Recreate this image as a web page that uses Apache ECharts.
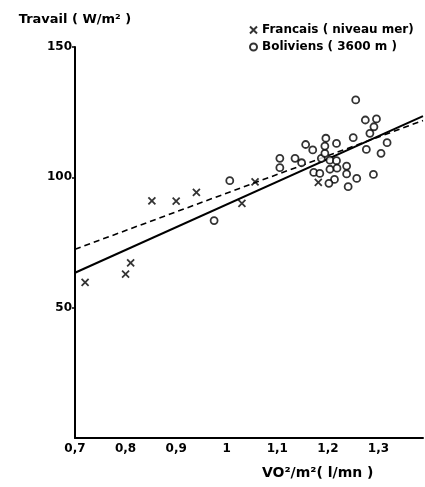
<!DOCTYPE html>
<html>
<head>
<meta charset="utf-8">
<script src="https://cdn.jsdelivr.net/npm/echarts@6/dist/echarts.min.js"></script>
<style>
html,body{margin:0;padding:0;background:#fff;}
#chart{width:425px;height:487px;}
</style>
</head>
<body>
<div id="chart"></div>
<script>
// Data
const xTicks = [0.7, 0.8, 0.9, 1.0, 1.1, 1.2, 1.3];
const yTicks = [50, 100, 150];
const francais = [
  [0.72, 59.7], [0.80, 62.9], [0.81, 67.2], [0.852, 91.0], [0.90, 90.9],
  [0.94, 94.2], [1.03, 90.0], [1.056, 98.3], [1.181, 98.1]
];
const boliviens = [
  [0.975, 83.4], [1.006, 98.7], [1.105, 107.3], [1.105, 103.7], [1.135, 107.3],
  [1.148, 105.6], [1.156, 112.6], [1.170, 110.5], [1.172, 101.9], [1.184, 101.5],
  [1.187, 107.3], [1.194, 109.2], [1.196, 115.0], [1.194, 112.0], [1.204, 106.6],
  [1.217, 106.4], [1.204, 103.1], [1.218, 103.5], [1.213, 99.2], [1.202, 97.7],
  [1.217, 113.0], [1.237, 104.3], [1.237, 101.3], [1.240, 96.4], [1.257, 99.6],
  [1.250, 115.2], [1.255, 129.7], [1.274, 122.0], [1.296, 122.4], [1.291, 119.4],
  [1.283, 116.9], [1.276, 110.7], [1.317, 113.3], [1.305, 109.2], [1.290, 101.1]
];
const solidLine = [[0.7, 63.4], [1.388, 123.5]];
const dashedLine = [[0.7, 72.4], [1.388, 121.8]];

const names = { fr: 'Francais ( niveau mer)', bo: 'Boliviens ( 3600 m )' };
const FONT = 'DejaVu Sans';

const chart = echarts.init(document.getElementById('chart'), null, { renderer: 'canvas' });
chart.setOption({
  animation: false,
  backgroundColor: '#fff',
  grid: { left: 75, right: 2, top: 47, bottom: 49, containLabel: false },
  legend: {
    orient: 'vertical',
    left: 244,
    top: 19,
    itemWidth: 7,
    itemHeight: 7,
    itemGap: 5,
    data: [names.fr, names.bo],
    textStyle: { fontFamily: FONT, fontSize: 12, fontWeight: 'bold', color: '#000' }
  },
  xAxis: {
    type: 'value',
    min: 0.7,
    max: 1.388,
    interval: 0.1,
    splitLine: { show: false },
    axisLine: { lineStyle: { color: '#000', width: 2 } },
    axisTick: { show: false },
    axisLabel: {
      showMaxLabel: false,
      margin: 5,
      fontFamily: FONT, fontSize: 12, fontWeight: 'bold', color: '#000',
      formatter: function (v) {
        const r = Math.round(v * 10) / 10;
        if (!xTicks.some(t => Math.abs(t - r) < 1e-6)) return '';
        return String(r).replace('.', ',');
      }
    },
    alignMinLabel: 'left'
  },
  yAxis: {
    type: 'value',
    min: 0,
    max: 150,
    interval: 50,
    name: 'Travail ( W/m² )',
    nameLocation: 'end',
    nameGap: 21,
    nameTextStyle: { fontFamily: FONT, fontSize: 13, fontWeight: 'bold', color: '#000' },
    splitLine: { show: false },
    axisLine: { lineStyle: { color: '#000', width: 2 } },
    axisTick: { show: true, length: 3, lineStyle: { color: '#000', width: 1.5 } },
    axisLabel: {
      showMinLabel: false,
      margin: 3,
      fontFamily: FONT, fontSize: 12, fontWeight: 'bold', color: '#000',
      formatter: function (v) { return yTicks.indexOf(v) >= 0 ? String(v) : ''; }
    }
  },
  graphic: [{
    type: 'text',
    left: 262,
    top: 466,
    style: { text: 'VO²/m²( l/mn )', fontFamily: FONT, fontSize: 14, fontWeight: 'bold', fill: '#000' }
  }],
  series: [
    {
      name: 'solid', type: 'line', data: solidLine, symbol: 'none',
      lineStyle: { color: '#000', width: 2 }, z: 2
    },
    {
      name: 'dashed', type: 'line', data: dashedLine, symbol: 'none',
      lineStyle: { color: '#000', width: 1.6, type: [6, 4] }, z: 2
    },
    {
      name: names.fr, type: 'scatter', data: francais,
      symbol: 'path://M0,0L10,10M10,0L0,10', symbolSize: 7,
      itemStyle: { color: 'transparent', borderColor: '#000', borderWidth: 1.8 }, z: 3
    },
    {
      name: names.bo, type: 'scatter', data: boliviens,
      symbol: 'circle', symbolSize: 7,
      itemStyle: { color: '#fff', borderColor: '#000', borderWidth: 1.8 }, z: 3
    }
  ]
});
</script>
</body>
</html>
